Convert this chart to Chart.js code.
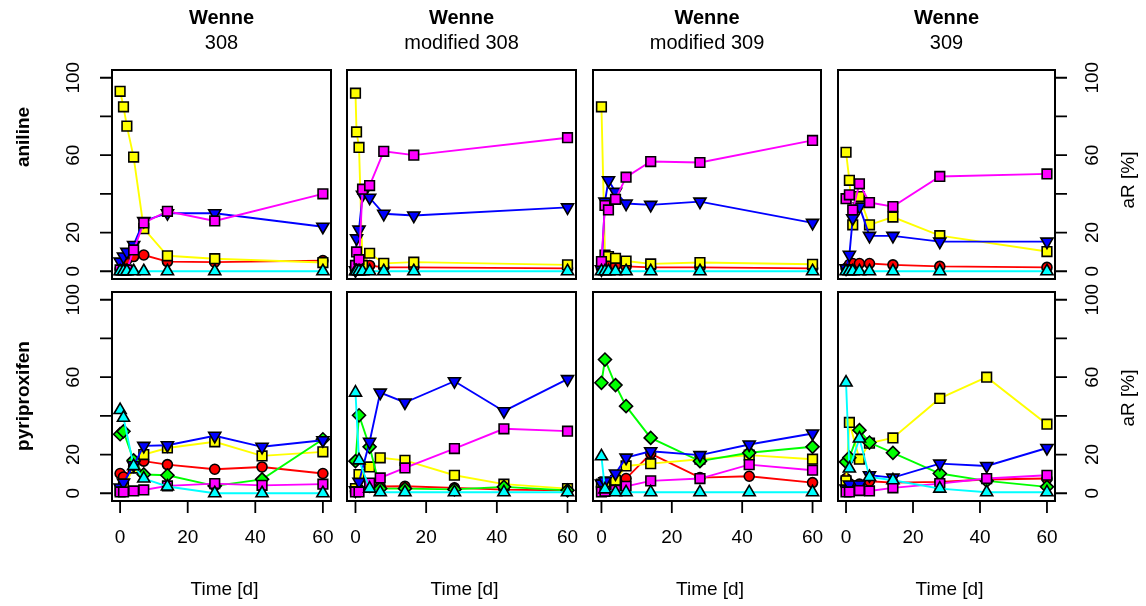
<!DOCTYPE html>
<html>
<head>
<meta charset="utf-8">
<script src="https://cdn.jsdelivr.net/npm/chart.js@4/dist/chart.umd.min.js"></script>
<style>
  body { margin: 0; background: #fff; width: 1146px; height: 606px; position: relative; overflow: hidden;
         font-family: "Liberation Sans", Arial, Helvetica, sans-serif; color: #000; }
  canvas { position: absolute; left: 0; top: 0; }
  .lbl { position: absolute; white-space: nowrap; transform: translate(-50%, -50%); line-height: 1; }
  .rot { transform: translate(-50%, -50%) rotate(-90deg); }
  .b { font-weight: bold; }
</style>
</head>
<body>
<script>
// axis ticks / labels
const xTicks = [0, 20, 40, 60];
const yTicks = [0, 20, 40, 60, 80, 100];
const yTickLabels = [0, 20, 60, 100];
const titleTop = 'Wenne';
const columnTitles = ['308', 'modified 308', 'modified 309', '309'];
const rowNames = ['aniline', 'pyriproxifen'];
const xTitle = 'Time [d]';
const yTitleRight = 'aR [%]';

// sampling days
const aniTimes308 = [0, 1, 2, 4, 7, 14, 28, 60];
const aniTimesMod308 = [0, 0.3, 1, 2, 4, 8, 16.5, 60];
const aniTimesMod309 = [0, 1, 2, 4, 7, 14, 28, 60];
const aniTimes309 = [0, 1, 2, 4, 7, 14, 28, 60];
const pyrTimes = [0, 1, 4, 7, 14, 28, 42, 60];

// aniline, Wenne 308
const ani308Yellow = [93, 85, 75, 59, 22, 8, 6.5, 4.5];
const ani308Magenta = [0.7, 0.7, 0.7, 11, 25, 31, 26, 40];
const ani308Blue = [5, 7.6, 10, 13.6, 26, 30, 30, 23];
const ani308Red = [1, 4, 6, 7.6, 8.4, 5, 4.7, 5.5];
const ani308Cyan = [0, 0, 0, 0, 0, 0, 0, 0];

// aniline, Wenne modified 308
const aniMod308Yellow = [92, 72, 64, 3, 9.3, 4.1, 4.7, 3.3];
const aniMod308Magenta = [3, 10, 6, 42.4, 44.3, 62, 60, 69];
const aniMod308Blue = [0.5, 17, 21.5, 39.5, 38, 29.7, 28.8, 33];
const aniMod308Red = [0.5, 1, 1.5, 2.5, 3, 2, 2, 1.5];
const aniMod308Cyan = [0, 0, 0, 0, 0, 0, 0, 0];

// aniline, Wenne modified 309
const aniMod309Yellow = [85, 8.4, 7.6, 6.7, 5.3, 3.8, 4.5, 3.6];
const aniMod309Magenta = [5, 34, 31.7, 37.2, 48.6, 56.7, 56.2, 67.6];
const aniMod309Blue = [1, 36, 47, 41, 35, 34.3, 36, 25];
const aniMod309Red = [1.5, 2.5, 3, 3, 2.5, 2, 2, 1.5];
const aniMod309Cyan = [0, 0, 0, 0, 0, 0, 0, 0];

// aniline, Wenne 309
const ani309Yellow = [61.5, 47, 24, 38.6, 24, 28, 18.4, 10.2];
const ani309Magenta = [37.5, 39.5, 31.7, 45.2, 35.5, 33.4, 49, 50.3];
const ani309Blue = [1.5, 8.5, 27.4, 33.4, 18.3, 18.3, 15.3, 15.3];
const ani309Red = [1.5, 3.5, 4, 4, 4, 3.3, 2.5, 2];
const ani309Cyan = [0, 0, 0, 0, 0, 0, 0, 0];

// pyriproxifen, Wenne 308
const pyr308Yellow = [1.5, 3, 13, 20, 23.4, 26.6, 19.3, 21.4];
const pyr308Magenta = [0.7, 0.7, 1.2, 1.7, 3.8, 5, 4.1, 4.7];
const pyr308Blue = [3, 5.5, 14.5, 24.5, 24.8, 29.7, 24, 27.4];
const pyr308Red = [10.2, 8.4, 14, 16.6, 14.8, 12.4, 13.6, 10.2];
const pyr308Cyan = [43, 39, 14, 7.6, 3.5, 0, 0, 0];
const pyr308Green = [30.5, 32, 17, 9.7, 9.3, 3.8, 7.2, 27.9];

// pyriproxifen, Wenne modified 308
const pyrMod308Yellow = [2.4, 9.7, 13.6, 18.3, 17, 9.3, 4.7, 2.4];
const pyrMod308Magenta = [0.7, 0.7, 5.3, 7.9, 13.1, 23.1, 33.3, 32.1];
const pyrMod308Blue = [1.5, 5.9, 26.6, 52, 46.9, 57.9, 42.4, 59];
const pyrMod308Red = [1, 2, 3, 3.5, 3.6, 2.8, 1.9, 1.5];
const pyrMod308Cyan = [52, 17, 2.4, 0.5, 0.5, 0.5, 0.5, 0.5];
const pyrMod308Green = [16.6, 40.3, 24, 2.4, 2.4, 2, 3.3, 1.5];

// pyriproxifen, Wenne modified 309
const pyrMod309Yellow = [4.7, 5.9, 6.7, 14.1, 15.3, 17.6, 19.7, 17.6];
const pyrMod309Magenta = [0.7, 1, 1.6, 3.6, 6.4, 7.6, 14.8, 11.9];
const pyrMod309Blue = [5, 6.2, 10.2, 18.4, 21.7, 19.7, 25.2, 30.9];
const pyrMod309Red = [3.3, 4.1, 5, 7.6, 20.5, 8.1, 8.8, 5.5];
const pyrMod309Cyan = [19.1, 2, 0.5, 0.5, 0.5, 0.5, 0.5, 0.5];
const pyrMod309Green = [57.1, 69.1, 55.9, 45, 28.6, 16.6, 20.9, 24];

// pyriproxifen, Wenne 309
const pyr309Yellow = [6.4, 36.6, 17.6, 25.9, 28.6, 49, 60, 35.7];
const pyr309Magenta = [0.7, 0.7, 1.4, 1.2, 2.8, 5, 7.6, 9.3];
const pyr309Blue = [2.4, 4.5, 4.5, 9.3, 8.1, 15.3, 14.1, 23.4];
const pyr309Red = [7.6, 5, 4.7, 6.2, 5.5, 5.9, 7.1, 7.6];
const pyr309Cyan = [57.2, 12.8, 28.3, 8.4, 6.7, 2.4, 0.5, 0.5];
const pyr309Green = [16.2, 18.4, 32.6, 26.2, 20.9, 10.2, 6.4, 3.3];

// marker look per series (first one ends up on top)
const seriesStyle = {
  cyan:    { color: '#00FFFF', pointStyle: 'triangle', radius: 7,   rotation: 0 },
  magenta: { color: '#FF00FF', pointStyle: 'rect',     radius: 6.8, rotation: 0 },
  blue:    { color: '#0000FF', pointStyle: 'triangle', radius: 7,   rotation: 180 },
  green:   { color: '#00FF00', pointStyle: 'rectRot',  radius: 6.5, rotation: 0 },
  yellow:  { color: '#FFFF00', pointStyle: 'rect',     radius: 6.8, rotation: 0 },
  red:     { color: '#FF0000', pointStyle: 'circle',   radius: 5,   rotation: 0 }
};

// layout of the frames (page pixels)
const colBox = [[112, 331], [347, 576], [593, 821], [838, 1055]];
const rowBox = [[70, 279], [292, 501]];
const W = 1146, H = 606;

const panels = [
  { row: 0, col: 0, times: aniTimes308, s: { cyan: ani308Cyan, magenta: ani308Magenta, blue: ani308Blue, yellow: ani308Yellow, red: ani308Red } },
  { row: 0, col: 1, times: aniTimesMod308, s: { cyan: aniMod308Cyan, magenta: aniMod308Magenta, blue: aniMod308Blue, yellow: aniMod308Yellow, red: aniMod308Red } },
  { row: 0, col: 2, times: aniTimesMod309, s: { cyan: aniMod309Cyan, magenta: aniMod309Magenta, blue: aniMod309Blue, yellow: aniMod309Yellow, red: aniMod309Red } },
  { row: 0, col: 3, times: aniTimes309, s: { cyan: ani309Cyan, magenta: ani309Magenta, blue: ani309Blue, yellow: ani309Yellow, red: ani309Red } },
  { row: 1, col: 0, times: pyrTimes, s: { cyan: pyr308Cyan, magenta: pyr308Magenta, blue: pyr308Blue, green: pyr308Green, yellow: pyr308Yellow, red: pyr308Red } },
  { row: 1, col: 1, times: pyrTimes, s: { cyan: pyrMod308Cyan, magenta: pyrMod308Magenta, blue: pyrMod308Blue, green: pyrMod308Green, yellow: pyrMod308Yellow, red: pyrMod308Red } },
  { row: 1, col: 2, times: pyrTimes, s: { cyan: pyrMod309Cyan, magenta: pyrMod309Magenta, blue: pyrMod309Blue, green: pyrMod309Green, yellow: pyrMod309Yellow, red: pyrMod309Red } },
  { row: 1, col: 3, times: pyrTimes, s: { cyan: pyr309Cyan, magenta: pyr309Magenta, blue: pyr309Blue, green: pyr309Green, yellow: pyr309Yellow, red: pyr309Red } }
];

const FONT = '"Liberation Sans", Arial, Helvetica, sans-serif';

// R style box + outside ticks, drawn from the chart's scales
const rAxes = {
  id: 'rAxes',
  afterDatasetsDraw(chart, args, opts) {
    const { ctx, chartArea: a, scales: { x, y } } = chart;
    const tl = 12, gap = 38;
    ctx.save();
    ctx.strokeStyle = '#000';
    ctx.fillStyle = '#000';
    ctx.lineWidth = 2;
    ctx.strokeRect(a.left, a.top, a.right - a.left, a.bottom - a.top);
    ctx.font = '19px ' + FONT;
    ctx.textAlign = 'center';
    ctx.textBaseline = 'middle';
    ctx.lineWidth = 1.8;
    if (opts.left || opts.right) {
      const x0 = opts.left ? a.left : a.right;
      const dir = opts.left ? -1 : 1;
      ctx.beginPath();
      yTicks.forEach(v => {
        const py = y.getPixelForValue(v);
        ctx.moveTo(x0, py);
        ctx.lineTo(x0 + dir * tl, py);
      });
      ctx.stroke();
      yTickLabels.forEach(v => {
        const py = y.getPixelForValue(v);
        ctx.save();
        ctx.translate(x0 + dir * gap, py);
        ctx.rotate(-Math.PI / 2);
        ctx.fillText(String(v), 0, 0);
        ctx.restore();
      });
    }
    if (opts.bottom) {
      ctx.beginPath();
      xTicks.forEach(v => {
        const px = x.getPixelForValue(v);
        ctx.moveTo(px, a.bottom);
        ctx.lineTo(px, a.bottom + tl);
      });
      ctx.stroke();
      xTicks.forEach(v => ctx.fillText(String(v), x.getPixelForValue(v), a.bottom + 37));
    }
    ctx.restore();
  }
};

function makeDatasets(times, s) {
  return Object.keys(seriesStyle).filter(k => s[k]).map(k => {
    const st = seriesStyle[k];
    return {
      label: k,
      data: times.map((t, i) => ({ x: t, y: s[k][i] })),
      borderColor: st.color,
      borderWidth: 1.9,
      pointStyle: st.pointStyle,
      pointRadius: st.radius,
      pointRotation: st.rotation,
      pointBackgroundColor: st.color,
      pointBorderColor: '#000',
      pointBorderWidth: 1.6,
      tension: 0,
      fill: false,
      clip: false
    };
  });
}

panels.forEach(p => {
  const [l, r] = colBox[p.col];
  const [t, b] = rowBox[p.row];
  const cv = document.createElement('canvas');
  cv.width = W; cv.height = H;
  document.body.appendChild(cv);
  new Chart(cv.getContext('2d'), {
    type: 'line',
    data: { datasets: makeDatasets(p.times, p.s) },
    options: {
      responsive: false,
      animation: false,
      events: [],
      devicePixelRatio: 1,
      layout: { padding: { left: l, right: W - r, top: t, bottom: H - b } },
      plugins: {
        legend: { display: false },
        tooltip: { enabled: false },
        rAxes: { left: p.col === 0, right: p.col === 3, bottom: p.row === 1 }
      },
      scales: {
        x: { type: 'linear', min: -2.4, max: 62.4, display: false },
        y: { type: 'linear', min: -4, max: 104, display: false }
      }
    },
    plugins: [rAxes]
  });
});

// text labels
function addLabel(text, cx, cy, size, cls) {
  const d = document.createElement('div');
  d.className = 'lbl ' + (cls || '');
  d.style.left = cx + 'px';
  d.style.top = cy + 'px';
  d.style.fontSize = size + 'px';
  d.textContent = text;
  document.body.appendChild(d);
}
colBox.forEach(([l, r], i) => {
  const cx = (l + r) / 2;
  addLabel(titleTop, cx, 17, 20, 'b');
  addLabel(columnTitles[i], cx, 42, 20);
  addLabel(xTitle, cx + 3, 588, 19);
});
addLabel(rowNames[0], 22, 137, 19, 'b rot');
addLabel(rowNames[1], 22, 396, 19, 'b rot');
addLabel(yTitleRight, 1127, 180, 19, 'rot');
addLabel(yTitleRight, 1127, 398, 19, 'rot');
</script>
</body>
</html>
